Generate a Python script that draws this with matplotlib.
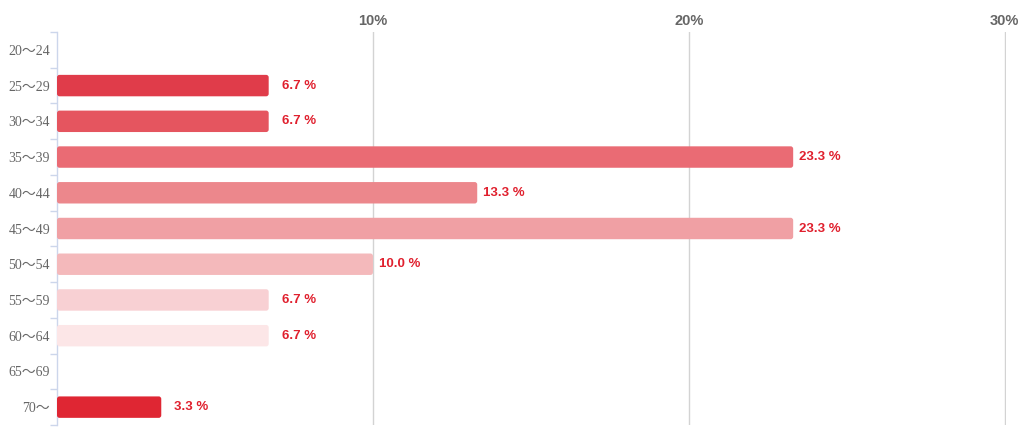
import matplotlib

matplotlib.use("Agg")
import matplotlib.pyplot as plt
from matplotlib.patches import FancyBboxPatch
from matplotlib.ticker import FixedLocator

ages = ["20～24", "25～29", "30～34", "35～39", "40～44", "45～49",
        "50～54", "55～59", "60～64", "65～69", "70～"]
shares = [0, 6.7, 6.7, 23.3, 13.3, 23.3, 10.0, 6.7, 6.7, 0, 3.3]
bar_colors = ["#e03c4a", "#e03c4a", "#e5555f", "#ea6b74", "#ec878c", "#f0a0a4",
              "#f4b9bb", "#f8d0d3", "#fce6e7", "#fce6e7", "#df2633"]
x_ticks = [10, 20, 30]

LABEL_RED = "#e0202e"
AXIS_BLUE = "#ccd6eb"
SERIF = ["Liberation Serif", "Noto Sans CJK JP"]
SANS = ["Liberation Sans"]

fig = plt.figure(figsize=(10.24, 4.4), dpi=100)
fig.patch.set_facecolor("white")
ax = fig.add_axes([57 / 1024, 15 / 440, 948.5 / 1024, 393 / 440])

ypos = list(range(len(ages)))
bars = ax.barh(ypos, shares, height=0.6, color=bar_colors, edgecolor="none", zorder=3)

# swap plain rectangles for slightly rounded ones
for rect in bars:
    if rect.get_width() <= 0:
        rect.set_visible(False)
        continue
    rounded = FancyBboxPatch((rect.get_x(), rect.get_y()), rect.get_width(), rect.get_height(),
                             boxstyle="round,pad=0,rounding_size=0.08", mutation_aspect=0.9,
                             facecolor=rect.get_facecolor(), edgecolor="none", zorder=3)
    rect.set_visible(False)
    ax.add_patch(rounded)

# labels right-aligned in a fixed box after the bar end
for y, v in zip(ypos, shares):
    if v > 0:
        ax.annotate(f"{v:.1f} %", xy=(v, y), xytext=(34, 0), textcoords="offset points",
                    va="center", ha="right", fontsize=9.5, fontweight="bold",
                    color=LABEL_RED, family=SANS, zorder=4)

ax.set_xlim(0, 30.02)
ax.set_ylim(len(ages) - 0.5, -0.5)

# x axis on top, gridlines only
ax.xaxis.tick_top()
ax.set_xticks(x_ticks)
ax.set_xticklabels([f"{t}%" for t in x_ticks], fontsize=10.5, fontweight="bold",
                   color="#666666", family=SANS)
ax.tick_params(axis="x", length=0, pad=3)
ax.grid(axis="x", color="#d3d3d3", linewidth=1, zorder=0)

# y axis: category labels, tick marks between categories
ax.set_yticks(ypos)
ax.set_yticklabels(ages, fontsize=10, color="#666666", family=SERIF)
ax.tick_params(axis="y", which="major", length=0, pad=5)
ax.yaxis.set_minor_locator(FixedLocator([i - 0.5 for i in range(len(ages) + 1)]))
ax.tick_params(axis="y", which="minor", length=5, color=AXIS_BLUE, width=1)

for side in ["top", "right", "bottom"]:
    ax.spines[side].set_visible(False)
ax.spines["left"].set_color(AXIS_BLUE)
ax.spines["left"].set_linewidth(1)

fig.savefig("out.png", dpi=100, facecolor="white")
